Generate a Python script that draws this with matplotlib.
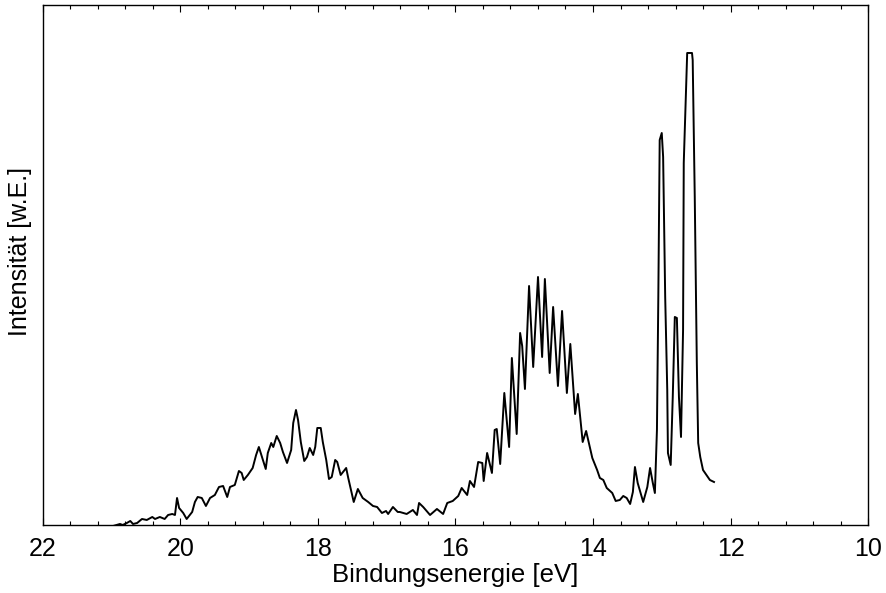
import matplotlib
matplotlib.use('Agg')
from matplotlib import pyplot as plt
from matplotlib.ticker import MultipleLocator

# Photoelektronenspektrum, Werte
energie = [20.98, 20.88, 20.84, 20.78, 20.73, 20.69, 20.63, 20.56, 20.49, 20.41,
           20.37, 20.30, 20.23, 20.18, 20.12, 20.08, 20.05, 20.02, 19.96, 19.91,
           19.83, 19.79, 19.75, 19.69, 19.63, 19.57, 19.50, 19.44, 19.38, 19.32,
           19.28, 19.21, 19.15, 19.11, 19.08, 19.02, 18.95, 18.90, 18.86, 18.80,
           18.76, 18.73, 18.68, 18.65, 18.60, 18.55, 18.51, 18.45, 18.39, 18.36,
           18.32, 18.29, 18.25, 18.20, 18.16, 18.12, 18.07, 18.04, 18.01, 17.96,
           17.93, 17.88, 17.84, 17.80, 17.75, 17.72, 17.67, 17.59, 17.56, 17.52,
           17.48, 17.42, 17.35, 17.27, 17.20, 17.14, 17.07, 17.01, 16.98, 16.91,
           16.84, 16.81, 16.71, 16.62, 16.56, 16.53, 16.47, 16.37, 16.27, 16.18,
           16.12, 16.04, 15.96, 15.91, 15.83, 15.79, 15.73, 15.67, 15.61, 15.59,
           15.54, 15.47, 15.43, 15.40, 15.35, 15.29, 15.22, 15.18, 15.11, 15.06,
           15.03, 14.99, 14.93, 14.87, 14.80, 14.74, 14.70, 14.63, 14.58, 14.51,
           14.45, 14.38, 14.33, 14.26, 14.22, 14.15, 14.10, 14.01, 13.94, 13.90,
           13.85, 13.80, 13.72, 13.67, 13.61, 13.56, 13.51, 13.46, 13.42, 13.39,
           13.35, 13.27, 13.21, 13.17, 13.13, 13.10, 13.07, 13.05, 13.03, 13.00,
           12.98, 12.95, 12.92, 12.91, 12.87, 12.84, 12.81, 12.78, 12.75, 12.72,
           12.69, 12.68, 12.63, 12.56, 12.55, 12.52, 12.49, 12.47, 12.44, 12.40,
           12.34, 12.30, 12.24]

intensitaet = [-1, 1, 0, 2, 4, 1, 2, 6, 5, 8,
               6, 8, 6, 10, 11, 10, 27, 17, 12, 6,
               13, 23, 28, 27, 19, 27, 30, 38, 39, 28,
               38, 40, 54, 52, 45, 50, 57, 70, 78, 65,
               56, 72, 82, 78, 89, 82, 73, 62, 75, 102,
               115, 105, 83, 64, 68, 77, 70, 78, 97, 97,
               83, 65, 46, 48, 65, 63, 50, 57, 47, 35,
               23, 36, 27, 23, 19, 18, 12, 14, 11, 18,
               13, 13, 11, 15, 10, 22, 18, 10, 16, 11,
               22, 24, 29, 37, 30, 44, 38, 63, 62, 44,
               72, 52, 95, 96, 61, 132, 78, 167, 91, 192,
               179, 136, 239, 158, 248, 168, 246, 152, 218, 139,
               214, 132, 181, 111, 131, 83, 94, 67, 55, 47,
               45, 37, 32, 24, 25, 29, 27, 21, 33, 58,
               42, 23, 38, 57, 42, 32, 95, 228, 385, 392,
               368, 228, 135, 72, 60, 128, 208, 207, 128, 88,
               195, 362, 472, 472, 465, 328, 162, 82, 68, 55,
               49, 45, 43]

plt.rcParams['font.family'] = ['Liberation Sans', 'DejaVu Sans']

fig = plt.figure(figsize=(8.86, 5.93), dpi=100)
ax = fig.add_axes([0.0485, 0.1147, 0.9312, 0.8769])

ax.plot(energie, intensitaet, color='black', linewidth=1.4)

ax.set_xlim(22, 10)
ax.set_ylim(0, 520)
ax.xaxis.set_major_locator(MultipleLocator(2))
ax.xaxis.set_minor_locator(MultipleLocator(0.4))
ax.set_yticks([])
ax.tick_params(axis='x', which='both', direction='in', top=True, bottom=True,
               labelsize=18, width=0.8)
ax.tick_params(axis='x', which='major', length=5, pad=9)
ax.tick_params(axis='x', which='minor', length=3)
for s in ax.spines.values():
    s.set_linewidth(1.0)

ax.set_xlabel('Bindungsenergie [eV]', fontsize=18.5, labelpad=1)
ax.set_ylabel('Intensität [w.E.]', fontsize=18)
ax.yaxis.set_label_coords(-0.013, 0.525)

fig.savefig('out.png', dpi=100)
